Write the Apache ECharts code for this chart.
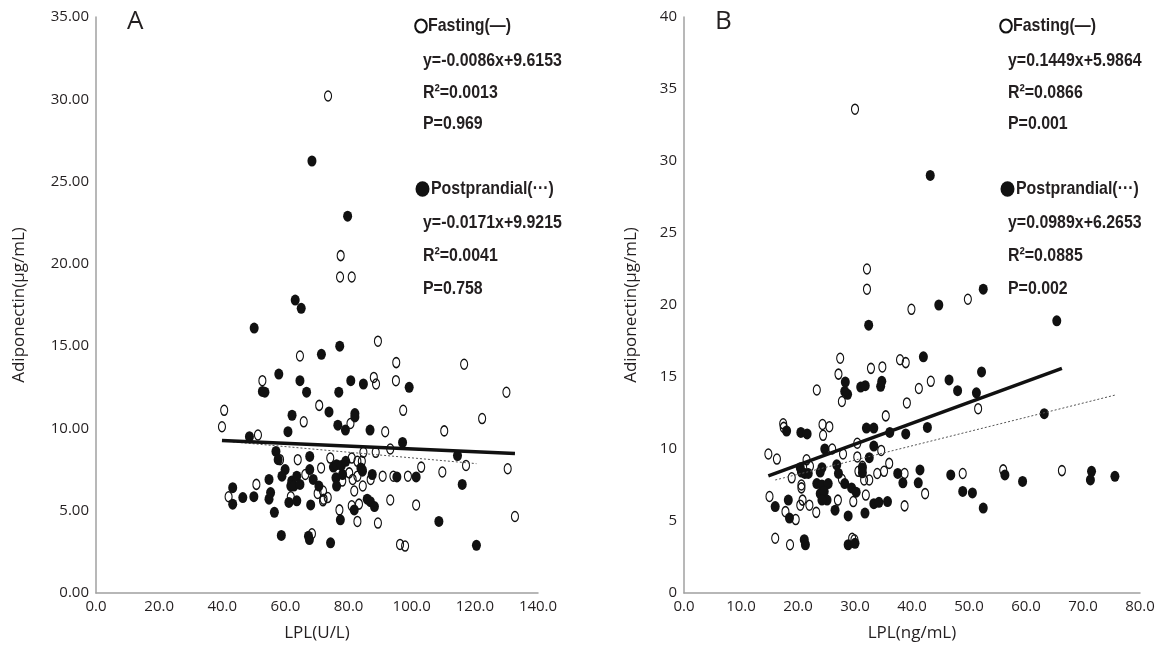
<!DOCTYPE html>
<html>
<head>
<meta charset="utf-8">
<script src="https://cdn.jsdelivr.net/npm/echarts@6/dist/echarts.min.js"></script>
<style>
html, body { margin: 0; padding: 0; background: #fff; }
#main { width: 1169px; height: 649px; }
</style>
</head>
<body>
<div id="main"></div>
<script>
// 图A：LPL(U/L) vs Adiponectin
const fastA = [
    [73.5,30.2],[77.5,20.5],[77.3,19.2],[81,19.2],[89.3,15.3],[64.6,14.4],[95.1,14.0],[52.7,12.9],[88,13.1],[88.7,12.7],
    [95,12.9],[40.6,11.1],[39.9,10.1],[51.3,9.6],[65.8,10.4],[70.7,11.4],[80.6,10.3],[91.6,9.8],[97.3,11.1],[58.3,8.1],
    [63.9,8.1],[71.3,7.6],[74.2,8.2],[81,8.2],[82.8,8.0],[84.2,8.0],[84.7,8.55],[88.6,8.55],[93.2,8.75],[103,7.65],
    [66.3,7.2],[70.2,6.05],[71.9,6.2],[71.9,5.6],[73.4,5.8],[78,6.8],[80.2,7.3],[81.3,6.9],[82.8,7.1],[87,6.9],
    [90.8,7.1],[94.2,7.1],[98.8,7.1],[84.5,6.5],[81.8,6.2],[50.8,6.6],[42,5.85],[61.7,5.85],[72.1,5.7],[77.1,5.05],
    [81,5.3],[83.3,5.4],[93.2,5.65],[101.4,5.35],[82.8,4.35],[89.3,4.25],[68.4,3.6],[96.3,2.95],[97.9,2.85],[116.6,13.9],
    [130,12.2],[122.3,10.6],[110.3,9.85],[117.2,7.75],[109.7,7.35],[130.4,7.55],[132.7,4.65]
]
const postA = [
    [68.4,26.25],[79.7,22.9],[63.1,17.8],[65.0,17.3],[50.1,16.1],[71.4,14.5],[77.2,15.0],[57.9,13.3],[52.7,12.25],[53.5,12.2],
    [64.6,12.9],[66.7,12.2],[76.9,12.2],[80.7,12.9],[84.7,12.7],[99.2,12.5],[48.6,9.5],[60.8,9.8],[62.1,10.8],[73.8,11.0],
    [76.6,10.2],[79,9.9],[82,10.9],[82,10.7],[86.8,9.9],[97.1,9.15],[57.0,8.6],[57.7,8.1],[67.7,8.3],[67.7,7.5],
    [75.2,7.65],[76.2,7.8],[77.7,7.75],[79.1,8.0],[84.3,7.5],[83.9,7.6],[84.4,7.4],[59.9,7.5],[58.9,7.1],[62,6.8],
    [61.7,6.5],[62.7,6.5],[63.6,7.1],[64.6,6.6],[68.8,6.9],[70.6,6.5],[76,7.0],[76.2,6.5],[78.1,7.2],[87.5,7.2],
    [95.3,7.05],[101.4,7.05],[54.8,6.9],[43.3,6.4],[43.3,5.4],[46.5,5.8],[50,5.85],[54.8,5.7],[55.3,6.1],[56.5,4.9],
    [61.1,5.5],[63.6,5.6],[68,5.35],[77.4,4.45],[81.8,5.05],[85.9,5.7],[86.9,5.55],[88.2,5.25],[58.7,3.5],[67.3,3.45],
    [67.6,3.25],[74.3,3.05],[114.5,8.35],[116,6.6],[108.6,4.35],[120.5,2.9]
]
// 图B：LPL(ng/mL) vs Adiponectin
const fastB = [
    [30.0,33.6],[32.1,22.5],[32.1,21.1],[49.8,20.4],[39.9,19.7],[27.4,16.3],[37.9,16.2],[38.9,16.0],[32.8,15.6],[34.8,15.7],
    [27.1,15.2],[43.3,14.7],[41.2,14.2],[23.3,14.1],[27.7,13.3],[39.1,13.2],[51.6,12.8],[35.4,12.3],[17.4,11.75],[17.5,11.5],
    [24.3,11.7],[25.5,11.55],[24.4,10.95],[14.8,9.65],[16.3,9.3],[30.4,10.4],[34.6,9.9],[27.9,9.65],[30.4,9.45],[26.0,10.0],
    [21.5,9.25],[22.1,8.8],[18.9,8.0],[20.6,7.5],[20.6,7.3],[24.4,7.15],[27.7,7.9],[31.3,8.8],[30.6,8.45],[31.6,7.85],
    [32.5,7.85],[33.9,8.3],[35.1,8.45],[36.0,9.0],[38.7,8.3],[42.3,6.9],[48.9,8.3],[56.0,8.55],[66.3,8.5],[15.0,6.7],
    [17.8,5.65],[19.6,5.1],[20.4,6.1],[20.8,6.45],[22.0,6.1],[23.2,5.6],[27.0,6.45],[29.7,6.35],[31.9,6.8],[38.7,6.05],
    [16.0,3.8],[18.6,3.35],[29.5,3.8],[29.9,3.7]
]
const postB = [
    [43.2,29.0],[52.5,21.1],[44.7,20.0],[65.4,18.9],[32.4,18.6],[42.0,16.4],[28.3,14.65],[28.7,13.8],[28.2,14.0],[31.0,14.3],
    [31.8,14.4],[34.7,14.7],[34.5,14.35],[46.5,14.8],[52.2,15.35],[48.0,14.05],[51.3,13.9],[63.2,12.45],[42.7,11.5],[38.9,11.05],
    [36.1,11.15],[32.0,11.45],[33.3,11.45],[18.0,11.25],[20.5,11.15],[21.6,11.05],[24.7,10.0],[33.3,10.2],[32.5,9.4],[20.4,8.7],
    [21.2,8.3],[21.8,8.3],[20.6,8.4],[24.2,8.7],[23.9,8.4],[26.8,8.9],[27.1,8.3],[23.3,7.6],[24.2,7.5],[25.3,7.6],
    [23.9,6.9],[24.6,7.05],[25.1,6.45],[24.2,6.45],[28.2,7.6],[29.4,7.3],[30.2,7.0],[31.3,8.7],[31.3,8.35],[37.5,8.3],
    [41.4,8.55],[38.4,7.65],[41.1,7.65],[46.8,8.2],[48.9,7.05],[50.6,6.95],[52.5,5.9],[56.3,8.2],[59.4,7.75],[71.5,8.45],
    [71.3,7.85],[75.6,8.1],[16.0,6.0],[18.3,6.45],[18.5,5.2],[26.5,5.75],[28.8,5.35],[31.75,5.55],[33.3,6.2],[34.2,6.3],
    [35.7,6.35],[21.1,3.7],[21.3,3.35],[28.8,3.35],[30.0,3.45]
]
// 回归系数 [斜率, 截距]
const fitFastA = [-0.0086, 9.6153]
const fitPostA = [-0.0171, 9.9215]
const fitFastB = [0.1449, 5.9864]
const fitPostB = [0.0989, 6.2653]
// 图例文字
const textFastA = ['y=-0.0086x+9.6153', 'R²=0.0013', 'P=0.969']
const textPostA = ['y=-0.0171x+9.9215', 'R²=0.0041', 'P=0.758']
const textFastB = ['y=0.1449x+5.9864', 'R²=0.0866', 'P=0.001']
const textPostB = ['y=0.0989x+6.2653', 'R²=0.0885', 'P=0.002']

const tickFont = "'Open Sans', 'Noto Sans', sans-serif"
const boldFont = "'Liberation Sans Narrow', 'Liberation Sans', sans-serif"
const ink = '#231f20'

// 用回归方程在数据x范围内画线
function fitLine(points, fit) {
    let xs = points.map(p => p[0])
    let x0 = Math.min(...xs), x1 = Math.max(...xs)
    return [[x0, fit[0] * x0 + fit[1]], [x1, fit[0] * x1 + fit[1]]]
}

function xAxisOf(idx, max, interval, name) {
    return {
        gridIndex: idx, type: 'value', min: 0, max: max, interval: interval,
        axisLine: { show: true, onZero: false, lineStyle: { color: '#a0a0a0', width: 1.5 } },
        axisTick: { show: false },
        splitLine: { show: false },
        axisLabel: { color: ink, fontSize: 15, fontFamily: tickFont, margin: 6, formatter: v => v.toFixed(1) },
        name: name, nameLocation: 'middle', nameGap: 32,
        nameTextStyle: { color: ink, fontSize: 17, fontFamily: tickFont }
    }
}

function yAxisOf(idx, max, digits, gap) {
    return {
        gridIndex: idx, type: 'value', min: 0, max: max, interval: 5,
        axisLine: { show: true, onZero: false, lineStyle: { color: '#a0a0a0', width: 1.5 } },
        axisTick: { show: false },
        splitLine: { show: false },
        axisLabel: { color: ink, fontSize: 15, fontFamily: tickFont, margin: 7, formatter: v => v.toFixed(digits) },
        name: 'Adiponectin(μg/mL)', nameLocation: 'middle', nameGap: gap,
        nameTextStyle: { color: ink, fontSize: 17, fontFamily: tickFont }
    }
}

function scatterOf(idx, data, open) {
    return {
        type: 'scatter', xAxisIndex: idx, yAxisIndex: idx, data: data,
        symbol: 'circle',
        symbolSize: open ? [7, 10] : [9, 11],
        itemStyle: open
            ? { color: 'rgba(255,255,255,0)', borderColor: '#111', borderWidth: 1.3, opacity: 1 }
            : { color: '#111', borderWidth: 0, opacity: 1 },
        silent: true
    }
}

function lineOf(idx, data, solid) {
    return {
        type: 'line', xAxisIndex: idx, yAxisIndex: idx, data: data,
        symbol: 'none', silent: true, z: 5,
        lineStyle: solid
            ? { color: '#111', width: 3.5 }
            : { color: '#555', width: 1, type: [2, 2] }
    }
}

// 加粗窄体文字（横向压缩）
function boldText(x, y, t) {
    return { type: 'text', x: x, y: y, scaleX: 0.86,
        style: { text: t, font: 'bold 18.5px ' + boldFont, fill: ink, verticalAlign: 'middle' } }
}

// 右上角图例块
function legendBlock(x, fastLines, postLines) {
    let items = []
    items.push({ type: 'circle', x: x - 4, y: 26, scaleY: 1.12, shape: { cx: 0, cy: 0, r: 5.8 },
        style: { fill: 'none', stroke: '#111', lineWidth: 2 } })
    items.push(boldText(x + 3, 26, 'Fasting(—)'))
    fastLines.forEach((t, i) => items.push(boldText(x - 2, 61 + i * 31.5, t)))
    items.push({ type: 'circle', x: x - 2.5, y: 189, scaleY: 1.12, shape: { cx: 0, cy: 0, r: 7 },
        style: { fill: '#111' } })
    items.push(boldText(x + 6, 189, 'Postprandial(···)'))
    postLines.forEach((t, i) => items.push(boldText(x - 2, 223 + i * 33, t)))
    return items
}

let myChart = echarts.init(document.getElementById('main'))
let option = {
    animation: false,
    backgroundColor: '#fff',
    grid: [
        { left: 96, top: 17, width: 442, height: 576 },
        { left: 684, top: 17, width: 456, height: 576 }
    ],
    xAxis: [
        xAxisOf(0, 140, 20, 'LPL(U/L)'),
        xAxisOf(1, 80, 10, 'LPL(ng/mL)')
    ],
    yAxis: [
        yAxisOf(0, 35, 2, 68),
        yAxisOf(1, 40, 0, 44)
    ],
    series: [
        scatterOf(0, fastA, true),
        scatterOf(0, postA, false),
        lineOf(0, fitLine(postA, fitPostA), false),
        lineOf(0, fitLine(fastA, fitFastA), true),
        scatterOf(1, fastB, true),
        scatterOf(1, postB, false),
        lineOf(1, fitLine(postB, fitPostB), false),
        lineOf(1, fitLine(fastB, fitFastB), true)
    ],
    graphic: [
        { type: 'text', x: 127, y: 22, style: { text: 'A', font: '26px ' + tickFont, fill: ink, verticalAlign: 'middle' } },
        { type: 'text', x: 715, y: 22, style: { text: 'B', font: '26px ' + tickFont, fill: ink, verticalAlign: 'middle' } }
    ].concat(legendBlock(425, textFastA, textPostA), legendBlock(1010, textFastB, textPostB))
}
myChart.setOption(option)
</script>
</body>
</html>
